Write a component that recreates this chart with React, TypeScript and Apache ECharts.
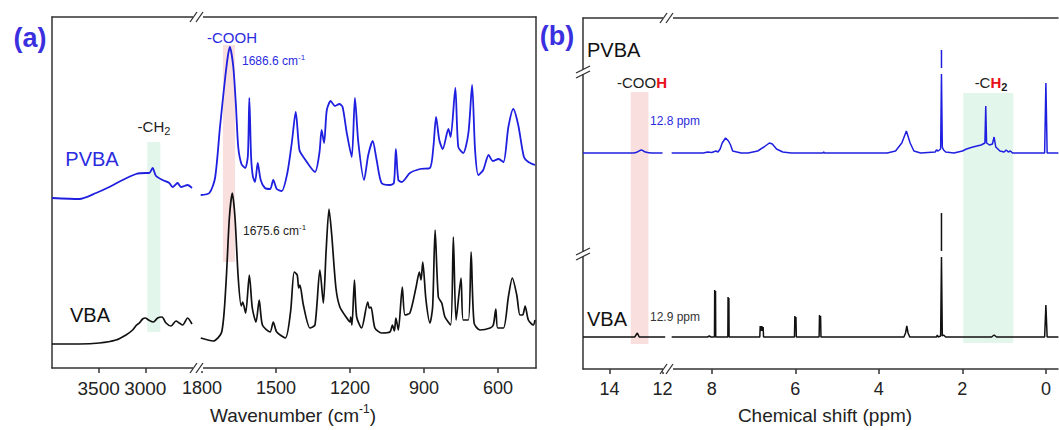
import React, { useEffect, useRef } from "react";
import * as echarts from "echarts";

const FONT = "'Liberation Sans', Arial, Helvetica, sans-serif";
const BLUE = "#1f1fe0";
const BLACK = "#111111";
const AXIS = "#333333";

// ---------- (a) FTIR : [wavenumber cm-1, relative intensity] ----------
const ftirPvbaHigh = [
  [4000, 170], [3707, 169], [3528, 175], [3386, 181], [3243, 188], [3100, 194], [2993, 195],
  [2957, 195], [2922, 200], [2885, 192], [2815, 188], [2743, 185], [2708, 181], [2654, 185],
  [2618, 181], [2582, 182], [2547, 183], [2500, 180],
];
const ftirPvbaLow = [
  [1805, 173], [1770, 175], [1747, 190], [1727, 241], [1707, 288], [1695, 312], [1687, 321],
  [1673, 301], [1662, 261], [1653, 221], [1640, 204], [1625, 200], [1614, 212], [1608, 270],
  [1601, 212], [1594, 192], [1585, 186], [1574, 205], [1562, 188], [1545, 180], [1524, 179],
  [1511, 188], [1497, 179], [1477, 177], [1454, 195], [1436, 225], [1420, 256], [1405, 218],
  [1389, 211], [1342, 196], [1324, 215], [1315, 238], [1305, 225], [1294, 258], [1278, 267],
  [1261, 262], [1243, 264], [1230, 261], [1213, 235], [1193, 211], [1180, 270], [1166, 225],
  [1143, 188], [1126, 213], [1108, 227], [1092, 208], [1072, 185], [1038, 183], [1022, 185],
  [1014, 219], [1004, 188], [990, 186], [957, 195], [916, 199], [876, 200], [862, 221],
  [851, 251], [838, 228], [824, 219], [801, 239], [792, 231], [773, 280], [761, 221],
  [741, 215], [720, 235], [705, 283], [693, 218], [680, 193], [660, 198], [638, 213],
  [621, 207], [598, 209], [578, 206], [558, 241], [538, 259], [518, 243], [495, 211],
  [477, 206], [450, 203],
];
const ftirVbaHigh = [
  [4000, 24], [3707, 24], [3493, 25], [3314, 28], [3207, 33], [3136, 38], [3093, 43],
  [3064, 45], [3029, 49], [3000, 50], [2964, 48], [2914, 46], [2868, 50], [2821, 51],
  [2778, 45], [2725, 42], [2671, 47], [2636, 45], [2600, 43], [2547, 50], [2500, 44],
];
const ftirVbaLow = [
  [1805, 30], [1754, 27], [1720, 36], [1703, 83], [1689, 150], [1677, 175], [1666, 150],
  [1653, 90], [1641, 62], [1635, 66], [1623, 55], [1608, 93], [1596, 60], [1581, 46],
  [1568, 68], [1555, 43], [1524, 36], [1511, 46], [1497, 36], [1462, 30], [1441, 56],
  [1426, 96], [1414, 93], [1408, 80], [1403, 83], [1389, 63], [1362, 40], [1342, 43],
  [1322, 98], [1308, 65], [1297, 116], [1285, 159], [1274, 133], [1257, 80], [1241, 61],
  [1213, 50], [1200, 46], [1197, 51], [1192, 43], [1182, 88], [1173, 51], [1153, 40],
  [1128, 66], [1122, 60], [1115, 61], [1099, 40], [1072, 35], [1038, 36], [1028, 43],
  [1020, 37], [1014, 50], [1004, 38], [988, 81], [977, 53], [957, 55], [932, 81], [919, 96],
  [912, 88], [905, 106], [892, 68], [876, 45], [865, 61], [855, 138], [842, 71], [828, 65],
  [815, 51], [792, 43], [781, 131], [770, 48], [750, 90], [741, 48], [720, 48], [709, 116],
  [697, 45], [673, 38], [632, 40], [619, 43], [609, 59], [601, 40], [578, 40], [558, 71],
  [542, 90], [524, 73], [511, 53], [500, 53], [490, 62], [477, 48], [457, 43], [450, 48],
];
const ftirTicksHigh = [3500, 3000];
const ftirTicksLow = [1800, 1500, 1200, 900, 600];
const ftirCh2Band = [2979, 2839, 36, 226];
const ftirCoohBand = [1715, 1666, 106, 323];

// ---------- (b) 1H NMR : [chemical shift ppm, relative intensity] ----------
const nmrPvbaHigh = [
  [15, 216], [13.1, 216], [12.95, 217], [12.8, 219], [12.65, 217], [12.4, 216], [12.0, 216],
];
const nmrPvbaLow = [
  [8.96, 216], [8.2, 216], [8.1, 217], [8.0, 216.5], [7.9, 218], [7.85, 217], [7.8, 220],
  [7.75, 226], [7.67, 231], [7.6, 228], [7.55, 224], [7.5, 218], [7.4, 217], [7.3, 216],
  [7.13, 216], [6.9, 218], [6.75, 222], [6.62, 226], [6.55, 225], [6.45, 220], [6.3, 217],
  [6.1, 216], [5.34, 216], [5.32, 217], [5.3, 216], [3.8, 216], [3.6, 218], [3.45, 226],
  [3.34, 238], [3.25, 226], [3.16, 218], [3.0, 216], [2.65, 217], [2.62, 219], [2.58, 218],
  [2.52, 220], [2.5, 295], [2.48, 222], [2.45, 219], [2.4, 217], [2.2, 216], [2.0, 218],
  [1.9, 220], [1.75, 222], [1.55, 224], [1.46, 226], [1.44, 263], [1.42, 226], [1.35, 224],
  [1.28, 225], [1.24, 232], [1.2, 222], [1.1, 218], [1.0, 217], [0.95, 219], [0.9, 217],
  [0.85, 218], [0.8, 216], [0.03, 216], [0.0, 286], [-0.03, 216], [-0.3, 216],
];
const nmrPvbaSolventTop = [[2.5, 301], [2.5, 319]];
const nmrVbaHigh = [
  [15, 32], [13.05, 32], [12.95, 36], [12.88, 32], [11.9, 32],
];
const nmrVbaLow = [
  [8.96, 32], [8.1, 32], [8.06, 33], [8.02, 32], [7.935, 32], [7.93, 79], [7.92, 42],
  [7.91, 78], [7.905, 32], [7.615, 32], [7.61, 72], [7.6, 42], [7.59, 71], [7.585, 32],
  [6.85, 32], [6.84, 43], [6.82, 38], [6.8, 43], [6.78, 38], [6.77, 42], [6.76, 32],
  [6.02, 32], [6.01, 53], [5.995, 45], [5.985, 52], [5.975, 32], [5.43, 32], [5.42, 54],
  [5.405, 46], [5.395, 53], [5.385, 32], [3.4, 32], [3.36, 36], [3.33, 43], [3.3, 36],
  [3.26, 32], [2.62, 32], [2.6, 34], [2.58, 32], [2.52, 33], [2.5, 112], [2.48, 33],
  [2.45, 34], [2.4, 32], [1.3, 32], [1.24, 34], [1.18, 32], [0.03, 32], [0.0, 64],
  [-0.03, 32], [-0.3, 32],
];
const nmrVbaSolventTop = [[2.5, 118], [2.5, 156]];
const nmrTicksHigh = [14, 12];
const nmrTicksLow = [8, 6, 4, 2, 0];
const nmrCoohBand = [13.2, 12.53, 25, 277];
const nmrCh2Band = [1.98, 0.78, 26, 276];

const PINK = "rgba(246, 196, 196, 0.55)";
const GREEN = "rgba(200, 238, 218, 0.5)";

function bottomAxis(grid: number, min: number, max: number, ticks: number[], size: number) {
  return {
    type: "value", gridIndex: grid, position: "bottom", inverse: true, min, max,
    axisLine: { show: true, lineStyle: { color: AXIS, width: 1.5 } },
    axisTick: { show: true, inside: false, length: 5, customValues: ticks, lineStyle: { color: AXIS, width: 1.5 } },
    axisLabel: {
      show: true, customValues: ticks, fontSize: size, color: "#222", fontFamily: FONT, margin: 11,
      formatter: (v: number) => String(v),
    },
    splitLine: { show: false },
  };
}
function topAxis(grid: number, min: number, max: number) {
  return {
    type: "value", gridIndex: grid, position: "top", inverse: true, min, max,
    axisLine: { show: true, lineStyle: { color: AXIS, width: 1.5 } },
    axisTick: { show: false }, axisLabel: { show: false }, splitLine: { show: false },
  };
}
function yAx(grid: number, pos: string, showLine: boolean) {
  return {
    type: "value", gridIndex: grid, position: pos, min: 0, max: 351,
    axisLine: { show: showLine, lineStyle: { color: AXIS, width: 1.5 } },
    axisTick: { show: false }, axisLabel: { show: false }, splitLine: { show: false },
  };
}
function spec(data: number[][], axis: number, color: string, width: number, smooth: number) {
  return {
    type: "line", xAxisIndex: axis, yAxisIndex: axis, data, showSymbol: false, symbol: "none",
    smooth, lineStyle: { color, width }, z: 3, silent: true,
  };
}
function band(axis: number, b: number[], color: string) {
  return {
    type: "line", xAxisIndex: axis, yAxisIndex: axis, data: [], z: 1, silent: true,
    markArea: {
      silent: true, itemStyle: { color },
      data: [[{ xAxis: b[0], yAxis: b[2] }, { xAxis: b[1], yAxis: b[3] }]],
    },
  };
}

function breakMark(cx: number, cy: number) {
  return [
    { type: "rect", z: 100, shape: { x: cx - 5, y: cy - 3, width: 10, height: 6 }, style: { fill: "#fff" } },
    { type: "line", z: 101, shape: { x1: cx - 8, y1: cy + 5, x2: cx - 1, y2: cy - 5 }, style: { stroke: AXIS, lineWidth: 1.3 } },
    { type: "line", z: 101, shape: { x1: cx - 2, y1: cy + 5, x2: cx + 5, y2: cy - 5 }, style: { stroke: AXIS, lineWidth: 1.3 } },
  ];
}
function yBreakMark(cx: number, cy: number) {
  return [
    { type: "rect", z: 100, shape: { x: cx - 3, y: cy - 2, width: 6, height: 4 }, style: { fill: "#fff" } },
    { type: "line", z: 101, shape: { x1: cx - 7, y1: cy + 1, x2: cx + 7, y2: cy - 6 }, style: { stroke: AXIS, lineWidth: 1.3 } },
    { type: "line", z: 101, shape: { x1: cx - 7, y1: cy + 6, x2: cx + 7, y2: cy - 1 }, style: { stroke: AXIS, lineWidth: 1.3 } },
  ];
}
function txt(text: string, x: number, y: number, size: number, fill: string, align = "center", extra: any = {}) {
  return {
    type: "text", z: 110, x, y,
    style: { text, fill, font: `${extra.bold ? "bold " : ""}${size}px ${FONT}`, align, verticalAlign: "middle", rich: extra.rich },
  };
}

export default function App() {
  const ref = useRef<HTMLDivElement>(null);
  useEffect(() => {
    if (!ref.current) return;
    const chart = echarts.init(ref.current, null, { renderer: "svg" });
    const supRich = (size: number, fill: string) => ({
      sup: { fontSize: size, fill, fontFamily: FONT, verticalAlign: "top", lineHeight: size * 2 },
    });
    chart.setOption({
      animation: false,
      backgroundColor: "#fff",
      grid: [
        { left: 52, top: 17, width: 145, height: 351 },
        { left: 200, top: 17, width: 336, height: 351 },
        { left: 583, top: 18, width: 83, height: 351 },
        { left: 670, top: 18, width: 388, height: 351 },
      ],
      xAxis: [
        bottomAxis(0, 2446, 4000, ftirTicksHigh, 19),
        bottomAxis(1, 446, 1808, ftirTicksLow, 18),
        bottomAxis(2, 11.87, 15, nmrTicksHigh, 18),
        bottomAxis(3, -0.29, 9.0, nmrTicksLow, 18),
        topAxis(0, 2446, 4000),
        topAxis(1, 446, 1808),
        topAxis(2, 11.87, 15),
        topAxis(3, -0.29, 9.0),
      ],
      yAxis: [yAx(0, "left", true), yAx(1, "right", true), yAx(2, "left", true), yAx(3, "right", false)],
      series: [
        band(0, ftirCh2Band, GREEN),
        band(1, ftirCoohBand, PINK),
        band(2, nmrCoohBand, PINK),
        band(3, nmrCh2Band, GREEN),
        spec(ftirPvbaHigh, 0, BLUE, 1.8, 0.25),
        spec(ftirVbaHigh, 0, BLACK, 1.7, 0.25),
        spec(ftirPvbaLow, 1, BLUE, 1.8, 0.25),
        spec(ftirVbaLow, 1, BLACK, 1.7, 0.25),
        spec(nmrPvbaHigh, 2, BLUE, 1.5, 0.2),
        spec(nmrVbaHigh, 2, BLACK, 1.5, 0),
        spec(nmrPvbaLow, 3, BLUE, 1.5, 0),
        spec(nmrPvbaSolventTop, 3, BLUE, 1.5, 0),
        spec(nmrVbaLow, 3, BLACK, 1.5, 0),
        spec(nmrVbaSolventTop, 3, BLACK, 1.5, 0),
      ],
      graphic: [
        ...breakMark(198, 17),
        ...breakMark(198, 368),
        ...breakMark(668, 18),
        ...breakMark(668, 369),
        ...yBreakMark(583, 72),
        ...yBreakMark(583, 254),
        txt("(a)", 30, 38, 27, "#3b30e0", "center", { bold: true }),
        txt("(b)", 557, 36, 27, "#3b30e0", "center", { bold: true }),
        txt("PVBA", 92, 159, 20, "#2b2be0"),
        txt("VBA", 90, 315, 20, BLACK),
        txt("-CH{sub|2}", 154, 126, 15, "#222", "center", {
          rich: { sub: { fontSize: 11, fill: "#222", fontFamily: FONT, verticalAlign: "bottom", lineHeight: 20 } },
        }),
        txt("-COOH", 232, 37, 15, "#2b2be0"),
        txt("1686.6 cm{sup|-1}", 242, 61, 12, "#2b2be0", "left", { rich: supRich(8, "#2b2be0") }),
        txt("1675.6 cm{sup|-1}", 243, 231, 12, "#222", "left", { rich: supRich(8, "#222") }),
        txt("PVBA", 587, 50, 20, BLACK, "left"),
        txt("VBA", 587, 319, 20, BLACK, "left"),
        txt("-COO{r|H}", 642, 82, 15, "#222", "center", {
          rich: { r: { fontSize: 15, fontWeight: "bold", fill: "#e8101a", fontFamily: FONT } },
        }),
        txt("-C{r|H}{s|2}", 991, 82, 15, "#222", "center", {
          rich: {
            r: { fontSize: 15, fontWeight: "bold", fill: "#e8101a", fontFamily: FONT },
            s: { fontSize: 11, fontWeight: "bold", fill: "#222", fontFamily: FONT, verticalAlign: "bottom", lineHeight: 20 },
          },
        }),
        txt("12.8 ppm", 650, 121, 12, "#2b2be0", "left"),
        txt("12.9 ppm", 650, 317, 12, "#333", "left"),
        txt("Wavenumber (cm{sup|-1})", 293, 415, 19, "#222", "center", { rich: supRich(12, "#222") }),
        txt("Chemical shift (ppm)", 825, 415, 19, "#222", "center"),
      ],
    });
    return () => chart.dispose();
  }, []);
  return (
    <div
      ref={ref}
      style={{ position: "absolute", left: 0, top: 0, width: 1059, height: 430, background: "#fff" }}
    />
  );
}
